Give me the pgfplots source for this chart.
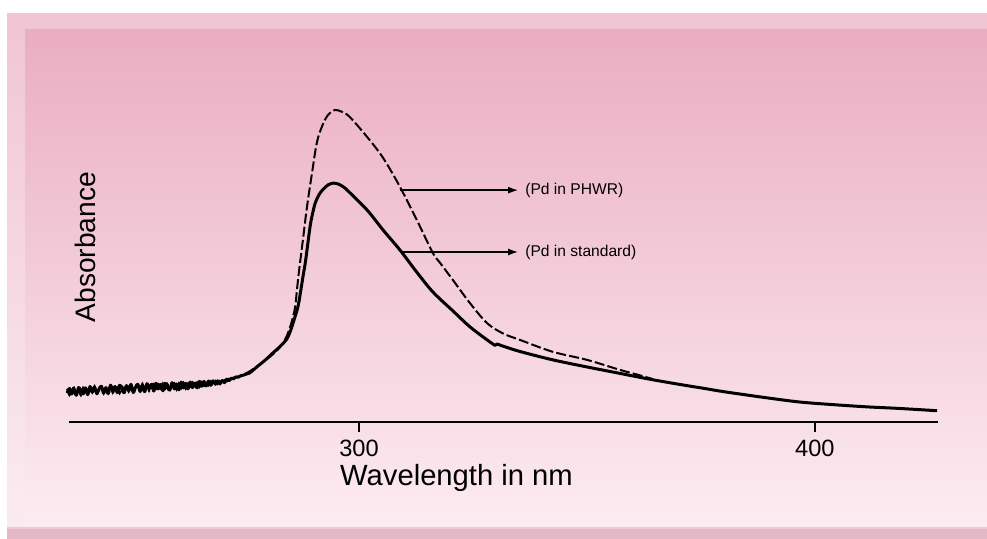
\documentclass[border=0pt]{standalone}
\usepackage{pgfplots}
\pgfplotsset{compat=1.18}
\usetikzlibrary{arrows.meta}
\usepackage{fontspec}
\setmainfont{Liberation Sans}

\definecolor{pinktop}{RGB}{234,173,194}
\definecolor{pinkmid}{RGB}{244,204,217}
\definecolor{pinkbot}{RGB}{252,236,241}
\definecolor{bevel}{RGB}{241,198,212}
\definecolor{bevelleft}{RGB}{247,222,230}
\definecolor{bottomstrip}{RGB}{226,184,198}

% standard solution (solid)
\pgfplotstableread{
lam A
236.0 0.090
236.5 0.104
237.0 0.087
237.5 0.101
238.0 0.083
238.5 0.107
239.0 0.098
239.5 0.087
240.0 0.106
240.5 0.085
241.0 0.110
241.5 0.093
242.0 0.108
242.5 0.088
243.0 0.103
243.5 0.111
244.0 0.090
244.5 0.107
245.0 0.088
245.5 0.114
246.0 0.098
246.5 0.110
247.0 0.091
247.5 0.114
248.0 0.100
248.5 0.091
249.0 0.113
249.5 0.098
250.0 0.117
250.5 0.092
251.0 0.108
251.5 0.117
252.0 0.095
252.5 0.114
253.0 0.094
253.5 0.119
254.0 0.103
254.5 0.117
255.0 0.096
255.5 0.120
256.0 0.103
256.5 0.117
257.0 0.097
257.5 0.120
258.0 0.107
258.5 0.099
259.0 0.122
259.5 0.103
260.0 0.118
260.5 0.100
261.0 0.124
261.5 0.106
262.0 0.120
262.5 0.103
263.0 0.124
263.5 0.107
264.0 0.121
264.5 0.106
265.0 0.126
265.5 0.111
266.0 0.126
266.5 0.112
267.0 0.127
267.5 0.114
268.0 0.128
268.5 0.117
269.0 0.128
269.5 0.118
270.0 0.129
270.5 0.122
271.0 0.133
271.5 0.128
272.0 0.136
272.5 0.134
273.0 0.140
273.5 0.139
274.0 0.143
274.5 0.145
275.0 0.147
275.5 0.150
276.0 0.152
277.6 0.171
279.5 0.193
281.1 0.214
282.8 0.236
284.2 0.258
285.0 0.284
285.6 0.310
286.6 0.357
287.2 0.405
287.7 0.450
288.2 0.492
288.6 0.534
289.0 0.578
289.4 0.618
289.9 0.652
290.4 0.680
291.2 0.705
292.1 0.722
293.3 0.737
294.5 0.742
295.5 0.739
296.8 0.728
298.0 0.712
301.8 0.658
305.3 0.596
309.0 0.534
312.7 0.465
316.2 0.404
320.6 0.345
324.3 0.296
328.1 0.255
329.3 0.243
329.8 0.238
330.3 0.242
331.5 0.236
335.3 0.219
342.5 0.193
350.0 0.171
357.2 0.151
364.5 0.131
371.9 0.113
375.0 0.106
379.2 0.096
382.0 0.090
389.5 0.075
396.7 0.062
403.9 0.054
411.4 0.047
418.6 0.042
426.8 0.035
}\standard

% PHWR sample (dashed)
\pgfplotstableread{
lam A
236.0 0.103
236.5 0.083
237.0 0.099
237.5 0.107
238.0 0.086
238.5 0.102
239.0 0.083
239.5 0.107
240.0 0.094
240.5 0.085
241.0 0.109
241.5 0.091
242.0 0.111
242.5 0.089
243.0 0.101
243.5 0.110
244.0 0.088
244.5 0.108
245.0 0.095
245.5 0.113
246.0 0.090
246.5 0.107
247.0 0.112
247.5 0.089
248.0 0.111
248.5 0.099
249.0 0.115
249.5 0.094
250.0 0.111
250.5 0.092
251.0 0.109
251.5 0.116
252.0 0.096
252.5 0.119
253.0 0.099
253.5 0.116
254.0 0.096
254.5 0.112
255.0 0.119
255.5 0.098
256.0 0.116
256.5 0.096
257.0 0.120
257.5 0.103
258.0 0.118
258.5 0.100
259.0 0.116
259.5 0.121
260.0 0.100
260.5 0.120
261.0 0.104
261.5 0.122
262.0 0.103
262.5 0.120
263.0 0.103
263.5 0.123
264.0 0.108
264.5 0.123
265.0 0.108
265.5 0.124
266.0 0.112
266.5 0.126
267.0 0.114
267.5 0.126
268.0 0.116
268.5 0.127
269.0 0.118
269.5 0.127
270.0 0.121
270.5 0.130
271.0 0.126
271.5 0.134
272.0 0.131
272.5 0.138
273.0 0.139
273.5 0.141
274.0 0.144
274.5 0.147
275.0 0.150
275.5 0.153
276.1 0.158
278.0 0.176
279.8 0.195
281.5 0.215
282.7 0.233
284.0 0.262
284.9 0.295
285.5 0.325
286.0 0.357
286.4 0.410
286.8 0.463
287.7 0.565
288.6 0.668
289.7 0.773
290.8 0.870
292.1 0.925
293.3 0.955
294.7 0.969
296.3 0.963
298.0 0.947
301.8 0.885
305.3 0.820
309.0 0.730
312.7 0.627
316.2 0.525
317.8 0.494
320.6 0.441
324.3 0.370
328.1 0.307
331.6 0.275
335.3 0.255
342.5 0.218
350.0 0.193
357.2 0.162
361.6 0.145
364.5 0.133
}\phwr

\begin{document}
\begin{tikzpicture}
\path[use as bounding box] (0,0) rectangle (493.5pt,269.5pt);
% framed pink background, drawn in image pixels (1px = 0.5pt, y downwards)
\begin{scope}[x=0.5pt,y=-0.5pt,yshift=269.5pt]
  \fill[white] (0,0) rectangle (987,539);
  \fill[bottomstrip] (7,526) rectangle (987,539);
  \fill[bevel] (7,13) rectangle (987,529);
  \shade[top color=pinktop, middle color=pinkmid, bottom color=pinkbot]
    (25,30) rectangle (987,527);
  \shade[top color=bevel, bottom color=bevelleft!60!white] (7,30) rectangle (25,527);
\end{scope}

\begin{axis}[
  at={(34.5pt,58.5pt)}, anchor=south west,
  scale only axis, width=434.5pt, height=161pt,
  xmin=236.4, xmax=427, ymin=0, ymax=1,
  axis x line=bottom, axis y line=none,
  x axis line style={-, line width=1.2pt},
  xtick={300,400}, xticklabels={300,400}, ytick=\empty,
  tick align=outside, major tick length=5pt,
  every tick/.style={black, line width=1pt},
  xticklabel style={font=\fontsize{11.8}{13}\selectfont, yshift=-0.5pt},
  clip=false,
]
\addplot[black, line width=1.5pt, line join=round, smooth, tension=0.55] table[x=lam, y=A] {\standard};
\addplot[black, line width=1pt, dash pattern=on 5pt off 1.6pt, smooth, tension=0.55] table[x=lam, y=A] {\phwr};

\draw[-{Latex[length=5pt,width=3.5pt]}, line width=0.7pt] (axis cs:309.0,0.720) -- (axis cs:334.9,0.720);
\draw[-{Latex[length=5pt,width=3.5pt]}, line width=0.7pt] (axis cs:309.6,0.528) -- (axis cs:334.9,0.528);
\node[anchor=west, inner sep=0pt, font=\fontsize{7.8}{9}\selectfont] at (axis cs:336.4,0.720) {(Pd in PHWR)};
\node[anchor=west, inner sep=0pt, font=\fontsize{7.8}{9}\selectfont] at (axis cs:336.4,0.528) {(Pd in standard)};

\node[anchor=base west, inner sep=0pt, font=\fontsize{14.6}{16}\selectfont] at (axis cs:295.8,-0.196) {Wavelength in nm};
\node[rotate=90, inner sep=0pt, font=\fontsize{14.1}{16}\selectfont] at (axis cs:240.1,0.543) {Absorbance};
\end{axis}
\end{tikzpicture}
\end{document}
